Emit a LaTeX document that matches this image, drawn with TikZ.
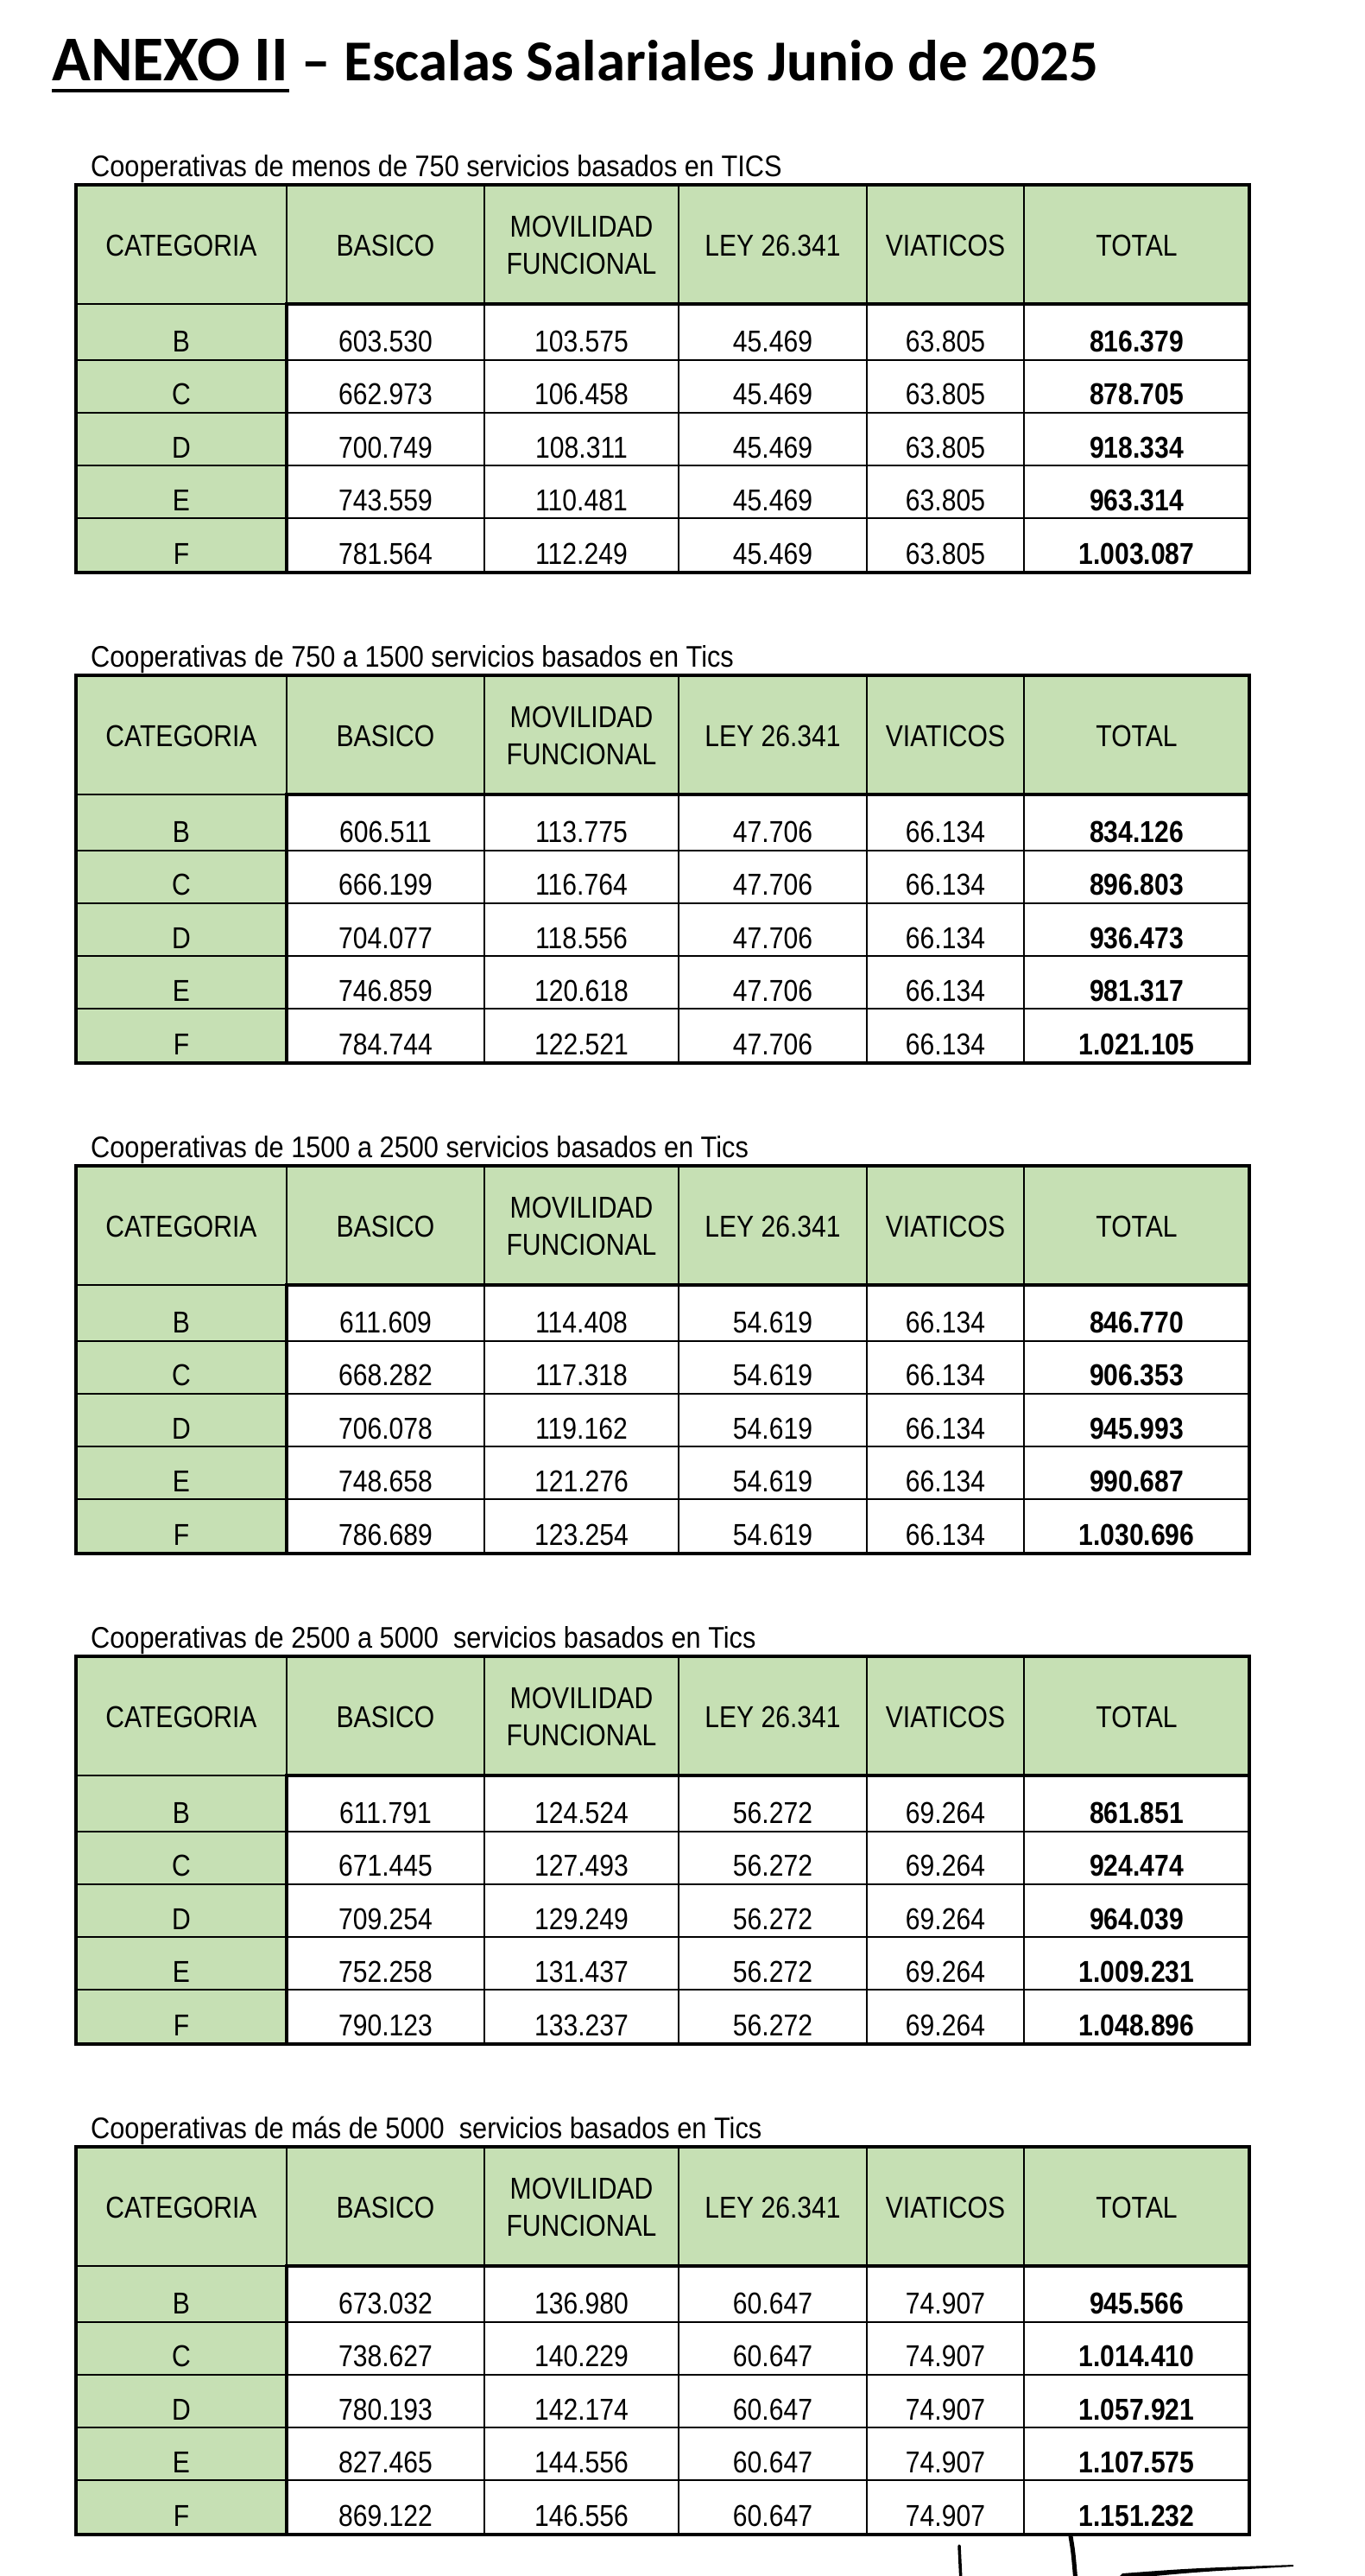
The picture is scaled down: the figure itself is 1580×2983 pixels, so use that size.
\documentclass[tikz,border=0pt]{standalone}
\usepackage{fontspec}
\setmainfont{Liberation Sans}[FakeStretch=0.86]
\newfontfamily\subfont{Liberation Sans}[FakeStretch=0.89]
\newfontfamily\titlefont{Carlito}
\definecolor{hdrgreen}{RGB}{198,224,180}
\tikzset{
  thinrule/.style={line width=1.8pt, black},
  thickrule/.style={line width=4pt, black},
  cell/.style={inner sep=0pt, font=\fontsize{35}{43}\selectfont, align=center},
  valcell/.style={cell, anchor=base},
  totcell/.style={cell, anchor=base, font=\fontsize{35}{43}\selectfont\bfseries},
  subtitle/.style={inner sep=0pt, anchor=base west, font=\subfont\fontsize{34.5}{40}\selectfont},
  titlebig/.style={inner sep=0pt, anchor=base west, font=\titlefont\bfseries\fontsize{74}{80}\selectfont},
  titletext/.style={inner sep=0pt, anchor=base west, font=\titlefont\bfseries\fontsize{67}{80}\selectfont},
  sigstroke/.style={line width=4pt, black, line cap=round},
}
\newcommand{\salarytable}[4]{%
  \begin{scope}[shift={(0,#2)}]
    \fill[hdrgreen] (88,0) rectangle (1447,138);
    \fill[hdrgreen] (88,138) rectangle (332,449);
    \foreach \x in {332,561,786,1004,1186} \draw[thinrule] (\x,0) -- (\x,449);
    \foreach \y in {203,264,325,386} \draw[thinrule] (88,\y) -- (1447,\y);
    \draw[thinrule] (88,138) -- (332,138);
    \draw[thickrule] (332,138) rectangle (1447,449);
    \draw[thickrule] (88,0) rectangle (1447,449);
    \node[subtitle] (sub#1) at (105,-10) {#3};
    \node[cell] (h#1a) at (210,70) {CATEGORIA};
    \node[cell] (h#1b) at (446.5,70) {BASICO};
    \node[cell] (h#1c) at (673.5,70) {MOVILIDAD\\FUNCIONAL};
    \node[cell] (h#1d) at (895,70) {LEY 26.341};
    \node[cell] (h#1e) at (1095,70) {VIATICOS};
    \node[cell] (h#1f) at (1316.5,70) {TOTAL};
    \foreach \ca/\cb/\cc/\cd/\ce/\cf [count=\r] in {#4} {
      \pgfmathsetmacro\yb{132+61.4*\r}
      \node[valcell] (r#1-\r a) at (210,\yb) {\ca};
      \node[valcell] (r#1-\r b) at (446.5,\yb) {\cb};
      \node[valcell] (r#1-\r c) at (673.5,\yb) {\cc};
      \node[valcell] (r#1-\r d) at (895,\yb) {\cd};
      \node[valcell] (r#1-\r e) at (1095,\yb) {\ce};
      \node[totcell] (r#1-\r f) at (1316.5,\yb) {\cf};
    }
  \end{scope}%
}
\begin{document}
\begin{tikzpicture}[x=1pt,y=-1pt]
\useasboundingbox[fill=white] (0,0) rectangle (1580,2983);
% title
\node[titlebig] (ta) at (60,93) {ANEXO II};
\node[titletext] (tb) at (ta.base east) {\ – Escalas Salariales Junio de 2025};
\draw[line width=4.5pt] ([yshift=-12pt]ta.base west) -- ([yshift=-12pt]ta.base east);

\salarytable{1}{214}{Cooperativas de menos de 750 servicios basados en TICS}{
  B/603.530/103.575/45.469/63.805/816.379,
  C/662.973/106.458/45.469/63.805/878.705,
  D/700.749/108.311/45.469/63.805/918.334,
  E/743.559/110.481/45.469/63.805/963.314,
  F/781.564/112.249/45.469/63.805/1.003.087}
\salarytable{2}{782}{Cooperativas de 750 a 1500 servicios basados en Tics}{
  B/606.511/113.775/47.706/66.134/834.126,
  C/666.199/116.764/47.706/66.134/896.803,
  D/704.077/118.556/47.706/66.134/936.473,
  E/746.859/120.618/47.706/66.134/981.317,
  F/784.744/122.521/47.706/66.134/1.021.105}
\salarytable{3}{1350}{Cooperativas de 1500 a 2500 servicios basados en Tics}{
  B/611.609/114.408/54.619/66.134/846.770,
  C/668.282/117.318/54.619/66.134/906.353,
  D/706.078/119.162/54.619/66.134/945.993,
  E/748.658/121.276/54.619/66.134/990.687,
  F/786.689/123.254/54.619/66.134/1.030.696}
\salarytable{4}{1918}{Cooperativas de 2500 a 5000\ \ servicios basados en Tics}{
  B/611.791/124.524/56.272/69.264/861.851,
  C/671.445/127.493/56.272/69.264/924.474,
  D/709.254/129.249/56.272/69.264/964.039,
  E/752.258/131.437/56.272/69.264/1.009.231,
  F/790.123/133.237/56.272/69.264/1.048.896}
\salarytable{5}{2486}{Cooperativas de más de 5000\ \ servicios basados en Tics}{
  B/673.032/136.980/60.647/74.907/945.566,
  C/738.627/140.229/60.647/74.907/1.014.410,
  D/780.193/142.174/60.647/74.907/1.057.921,
  E/827.465/144.556/60.647/74.907/1.107.575,
  F/869.122/146.556/60.647/74.907/1.151.232}

% signature strokes
\draw[sigstroke, line width=3.5pt] (1111,2948) -- (1113,2990);
\draw[sigstroke, line width=5pt] (1240,2937) .. controls (1243,2955) .. (1246,2990);
\fill[black] (1290,2990) -- (1300,2980) .. controls (1380,2974) .. (1498,2970) -- (1498,2972) .. controls (1390,2978) .. (1305,2986) -- cycle;
\end{tikzpicture}
\end{document}
